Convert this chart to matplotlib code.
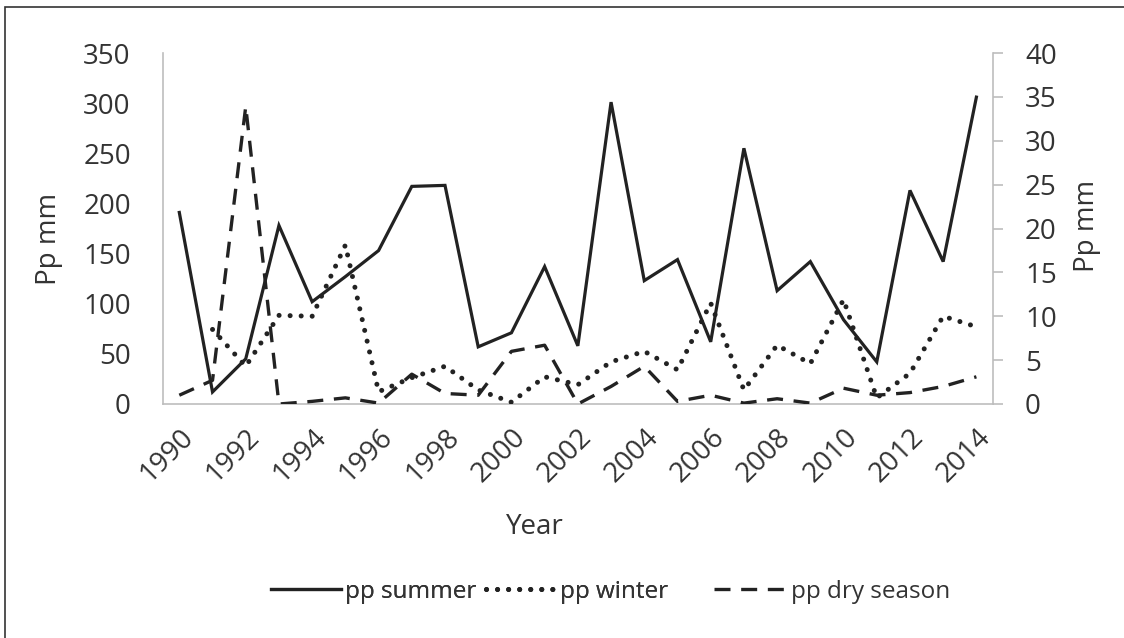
import numpy as np
import matplotlib
matplotlib.use("Agg")
import matplotlib.pyplot as plt
from matplotlib.patches import Rectangle

plt.rcParams['font.family'] = ['Open Sans', 'DejaVu Sans']

years = list(range(1990, 2015))
# summer on the left axis, winter and dry season on the right axis (mm)
pp_summer = [191, 12, 45, 178, 102, 127, 153, 217, 218, 57, 71, 137, 58,
             301, 123, 144, 62, 255, 113, 142, 84, 42, 213, 142, 306]
pp_winter = [np.nan, 8.5, 4.3, 10.1, 10.0, 18.1, 1.4, 3.0, 4.3, 1.6, 0.2, 3.1, 2.2,
             4.8, 6.0, 3.9, 11.5, 1.6, 6.7, 4.6, 11.9, 0.7, 3.5, 10.0, 8.8]
pp_dry = [1.0, 2.7, 33.9, 0.0, 0.3, 0.7, 0.1, 3.4, 1.2, 1.0, 6.0, 6.7, 0.0,
          2.0, 4.3, 0.3, 1.0, 0.1, 0.6, 0.1, 1.8, 1.0, 1.3, 2.0, 3.1]
tick_years = [str(y) for y in years[::2]]

W, H = 1124, 638
fig = plt.figure(figsize=(W / 100, H / 100), dpi=100)
ax = fig.add_axes([162.7 / W, 1 - 404 / H, (993 - 162.7) / W, (404 - 53) / H])
ax2 = ax.twinx()

x = np.arange(len(years))
ink = '#222222'
grey = '#bdbdbd'
txt = '#333333'

l1, = ax.plot(x, pp_summer, color=ink, lw=2.3, solid_joinstyle='miter')
l2, = ax2.plot(x, pp_winter, color=ink, lw=3.6, linestyle=(0, (0.01, 2.2)),
               dash_capstyle='round')
l3, = ax2.plot(x, pp_dry, color=ink, lw=2.4, linestyle=(0, (4.8, 3.2)),
               dash_capstyle='butt')

ax.set_xlim(-0.5, len(years) - 0.5)
ax.set_ylim(0, 350)
ax2.set_ylim(0, 40)
ax.set_yticks(range(0, 351, 50))
ax2.set_yticks(range(0, 41, 5))
ax.set_xticks(x[::2])
ax.set_xticklabels(tick_years, rotation=45, ha='right', va='top',
                   rotation_mode='anchor')

for a in (ax, ax2):
    for s in a.spines.values():
        s.set_visible(False)
ax.spines['left'].set_visible(True)
ax.spines['bottom'].set_visible(True)
ax2.spines['right'].set_visible(True)
for s in (ax.spines['left'], ax.spines['bottom'], ax2.spines['right']):
    s.set_color(grey)
    s.set_linewidth(1.2)

ax.tick_params(axis='y', length=0, pad=23, labelsize=20, labelcolor=txt)
ax.tick_params(axis='x', length=0, pad=14, labelsize=20, labelcolor=txt)
ax2.tick_params(axis='y', length=7, width=1.2, color=grey, pad=16,
                labelsize=20, labelcolor=txt)

ax.set_ylabel('Pp mm', fontsize=20, color=txt)
ax.yaxis.set_label_coords(-0.120, 0.469)
ax2.set_ylabel('Pp mm', fontsize=20, color=txt)
ax2.yaxis.set_label_coords(1.096, 0.507)
fig.text(535 / W, 1 - 527 / H, 'Year', fontsize=20, color=txt,
         ha='center', va='center')

# legend split in two, like the original spacing
leg1 = fig.legend([l1, l2], ['pp summer', 'pp winter'], ncol=2,
                  loc='center left', bbox_to_anchor=(271 / W, 1 - 592 / H),
                  frameon=False, fontsize=17.5, handlelength=2.9,
                  handletextpad=0.16, columnspacing=0.37, borderpad=0,
                  borderaxespad=0, labelcolor=txt)
fig.legend([l3], ['pp dry season'], loc='center left',
           bbox_to_anchor=(714 / W, 1 - 592 / H), frameon=False,
           fontsize=17.5, handlelength=3.0, handletextpad=0.16, borderpad=0,
           borderaxespad=0, labelcolor=txt)
fig.add_artist(leg1)

fig.add_artist(Rectangle((5 / W, -0.1), 1.1, 1.1 - 7 / H,
                         transform=fig.transFigure, fill=False,
                         edgecolor='#333333', lw=1.2))

fig.savefig('out.png', dpi=100)
